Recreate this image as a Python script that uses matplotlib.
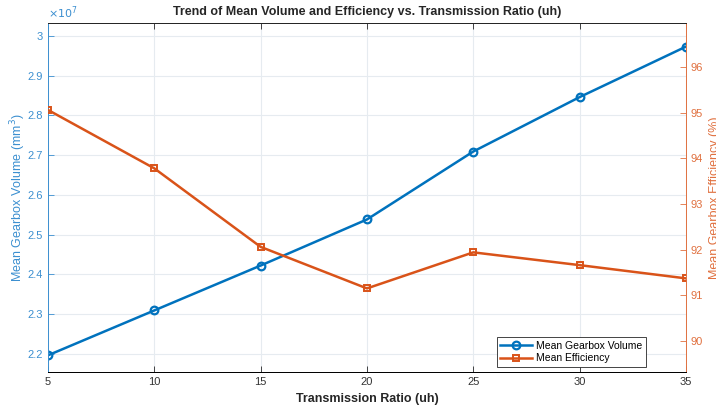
import matplotlib.pyplot as plt
from matplotlib.ticker import FuncFormatter, MultipleLocator

plt.rcParams["font.family"] = ["Liberation Sans", "DejaVu Sans"]

ratios = [5, 10, 15, 20, 25, 30, 35]
volume = [2.196e7, 2.309e7, 2.422e7, 2.538e7, 2.709e7, 2.846e7, 2.973e7]
efficiency = [95.06, 93.78, 92.06, 91.15, 91.94, 91.66, 91.37]

blue = "#0072BD"
orange = "#D95319"
blue_txt = "#3b8fd0"
orange_txt = "#e0703f"
grid_c = "#e6ebf0"

fig = plt.figure(figsize=(7.16, 4.07), dpi=100)
ax = fig.add_axes([0.067, 0.085, 0.891, 0.858])
ax2 = ax.twinx()

l1, = ax.plot(ratios, volume, color=blue, lw=1.8, marker="o", ms=5.5,
              mfc="none", mew=1.6, label="Mean Gearbox Volume")
l2, = ax2.plot(ratios, efficiency, color=orange, lw=1.8, marker="s", ms=5,
               mfc="none", mew=1.4, label="Mean Efficiency")

ax.set_xlim(5, 35)
ax.set_ylim(2.153e7, 3.032e7)
ax2.set_ylim(89.31, 96.96)
ax.xaxis.set_major_locator(MultipleLocator(5))
ax.yaxis.set_major_locator(MultipleLocator(0.1e7))
ax.yaxis.set_major_formatter(FuncFormatter(lambda v, p: f"{v/1e7:g}"))
ax2.yaxis.set_major_locator(MultipleLocator(1))

ax.grid(True, color=grid_c, lw=0.8)
ax.set_axisbelow(True)

for a in (ax, ax2):
    a.tick_params(direction="in", length=4, width=0.6, labelsize=8)
ax.tick_params(axis="x", top=True, colors="#262626", labelcolor="#333333")
ax.tick_params(axis="y", colors=blue_txt, labelcolor=blue_txt)
ax2.tick_params(axis="y", colors=orange_txt, labelcolor=orange_txt)

ax.spines["left"].set_color(blue_txt)
ax.spines["bottom"].set_color("#262626")
ax.spines["top"].set_color("#262626")
ax2.spines["left"].set_visible(False)
ax2.spines["right"].set_color(orange_txt)
ax2.spines["top"].set_color("#262626")
for s in list(ax.spines.values()) + list(ax2.spines.values()):
    s.set_linewidth(0.7)
ax.spines["right"].set_visible(False)

ax.set_xlabel("Transmission Ratio (uh)", fontsize=9, fontweight="bold", color="#262626", labelpad=4)
ax.set_ylabel("Mean Gearbox Volume (mm$^3$)", fontsize=9, color=blue_txt, labelpad=0)
ax2.set_ylabel("Mean Gearbox Efficiency (%)", fontsize=9, color=orange_txt, labelpad=4)
ax.set_title("Trend of Mean Volume and Efficiency vs. Transmission Ratio (uh)",
             fontsize=9, fontweight="bold", color="#262626", pad=6)
ax.text(0.0, 1.005, r"$\times10^{7}$", transform=ax.transAxes, color=blue_txt,
        fontsize=8, ha="left", va="bottom")

leg = ax2.legend(handles=[l1, l2], loc="lower right", bbox_to_anchor=(0.94, 0.01),
                 fontsize=7.5, frameon=True, fancybox=False, framealpha=1,
                 edgecolor="#262626", handlelength=3, borderpad=0.35,
                 labelspacing=0.2, handletextpad=0.4, borderaxespad=0.2)
leg.get_frame().set_linewidth(0.6)

fig.savefig("out.png", dpi=100)
